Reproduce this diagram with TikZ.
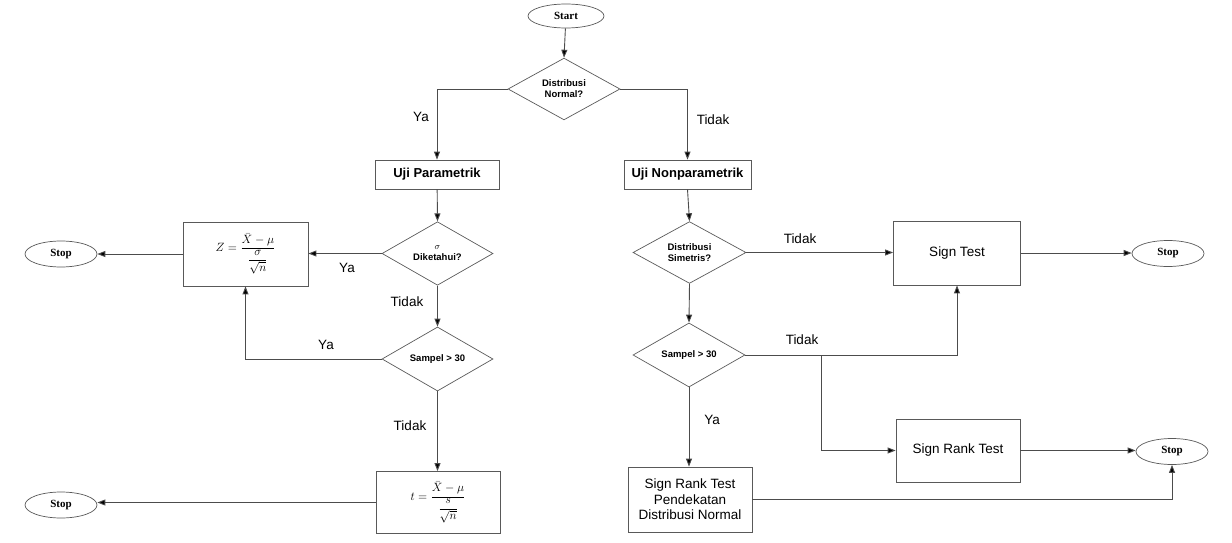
\documentclass[tikz,border=0pt]{standalone}
\usepackage{fontspec}
\setmainfont{Liberation Sans}
\newfontfamily\timesf{Liberation Serif}
\usetikzlibrary{shapes.geometric,arrows.meta}
\begin{document}
\begin{tikzpicture}[x=1pt,y=-1pt,
  line width=0.9pt,
  every node/.style={inner sep=1pt},
  conn/.style={draw=black!70, line width=0.9pt},
  arr/.style={conn,-{Triangle[length=8pt,width=6pt,fill=black]}},
  term/.style={ellipse, draw=black!65, line width=0.7pt, minimum width=72pt, minimum height=26pt, font=\timesf\bfseries\fontsize{11}{12}\selectfont},
  dec/.style={diamond, draw=black!65, line width=0.7pt, minimum width=112pt, minimum height=48pt, inner sep=0pt, align=center, font=\bfseries\fontsize{9.5}{11}\selectfont},
  procbox/.style={rectangle, draw=black!65, line width=0.8pt, align=center},
  formula/.style={procbox, font=\fontsize{12}{14}\selectfont},
  lbl/.style={font=\fontsize{13.5}{15}\selectfont, inner sep=0pt}
]
\useasboundingbox (0,0) rectangle (1232,543);

% nodes
\node[term, minimum width=76pt, minimum height=24pt] (start) at (566,16) {Start};
\node[dec] (dn) at (564,89) {Distribusi\\Normal?};
\node[procbox, minimum width=124pt, minimum height=29pt, font=\bfseries\fontsize{13}{15}\selectfont] (up) at (437,174.5) {Uji Parametrik};
\node[procbox, minimum width=127pt, minimum height=29pt, font=\bfseries\fontsize{13}{15}\selectfont] (unp) at (687.5,174.5) {Uji Nonparametrik};

\node[dec, minimum width=111pt] (sd) at (437.5,253.5) {$\sigma$\\Diketahui?};
\node[formula, minimum width=125pt, minimum height=64pt] (zbox) at (245.5,254) {$\displaystyle Z=\frac{\bar{X}-\mu}{\displaystyle\frac{\sigma}{\sqrt{n}}}$};
\node[term] (stopa) at (61,254) {Stop};
\node[dec, minimum width=111pt] (sa) at (437.5,359) {Sampel > 30};
\node[formula, minimum width=124pt, minimum height=62pt] (tbox) at (438,502.5) {$\displaystyle t=\frac{\bar{X}-\mu}{\displaystyle\frac{s}{\sqrt{n}}}$};
\node[term] (stopb) at (61,505) {Stop};

\node[dec, minimum width=113pt] (simd) at (689.5,252.5) {Distribusi\\Simetris?};
\node[procbox, minimum width=127pt, minimum height=64pt, font=\fontsize{13.5}{15}\selectfont] (st) at (957,253) {Sign Test};
\node[term] (stopc) at (1168,253.5) {Stop};
\node[dec, minimum width=112pt, minimum height=50pt] (sb) at (689,355) {Sampel > 30};
\node[procbox, minimum width=124pt, minimum height=63pt, font=\fontsize{13.5}{15}\selectfont] (srt) at (958,450.5) {Sign Rank Test};
\node[term] (stopd) at (1172,451.5) {Stop};
\node[procbox, minimum width=124pt, minimum height=65pt, font=\fontsize{13.5}{15.5}\selectfont] (srtn) at (690,499.5) {Sign Rank Test\\Pendekatan\\Distribusi Normal};

\coordinate (br) at (821,355);

% connectors
\draw[arr] (start) -- (dn.north);
\draw[arr] (dn.west) -| (up.north);
\draw[arr] (dn.east) -| (unp.north);
\draw[arr] (up) -- (sd.north);
\draw[arr] (sd.west) -- (sd.west -| zbox.east);
\draw[arr] (zbox.west) -- (stopa.east);
\draw[arr] (sd.south) -- (sa.north);
\draw[arr] (sa.west) -| (zbox.south);
\draw[arr] (sa.south) -- (sa.south |- tbox.north);
\draw[arr] (tbox.west) -- (tbox.west -| stopb.east);

\draw[arr] (unp.south) -- (simd.north);
\draw[arr] (simd.east) -- (simd.east -| st.west);
\draw[arr] (st.east) -- (st.east -| stopc.west);
\draw[arr] (simd.south) -- (sb.north);
\draw[arr] (sb.east) -| (st.south);
\draw[arr] (br) |- (srt.west);
\draw[arr] (srt.east) -- (srt.east -| stopd.west);
\draw[arr] (sb.south) -- (sb.south |- srtn.north);
\draw[arr] (srtn.east) -| (stopd.south);

% labels
\node[lbl] (l1) at (421,117) {Ya};
\node[lbl] (l2) at (713,120) {Tidak};
\node[lbl] (l3) at (347,268) {Ya};
\node[lbl] (l4) at (407,302) {Tidak};
\node[lbl] (l5) at (326,345) {Ya};
\node[lbl] (l6) at (410,426) {Tidak};
\node[lbl] (l7) at (800,239) {Tidak};
\node[lbl] (l8) at (802,340) {Tidak};
\node[lbl] (l9) at (712,420) {Ya};
\end{tikzpicture}
\end{document}
